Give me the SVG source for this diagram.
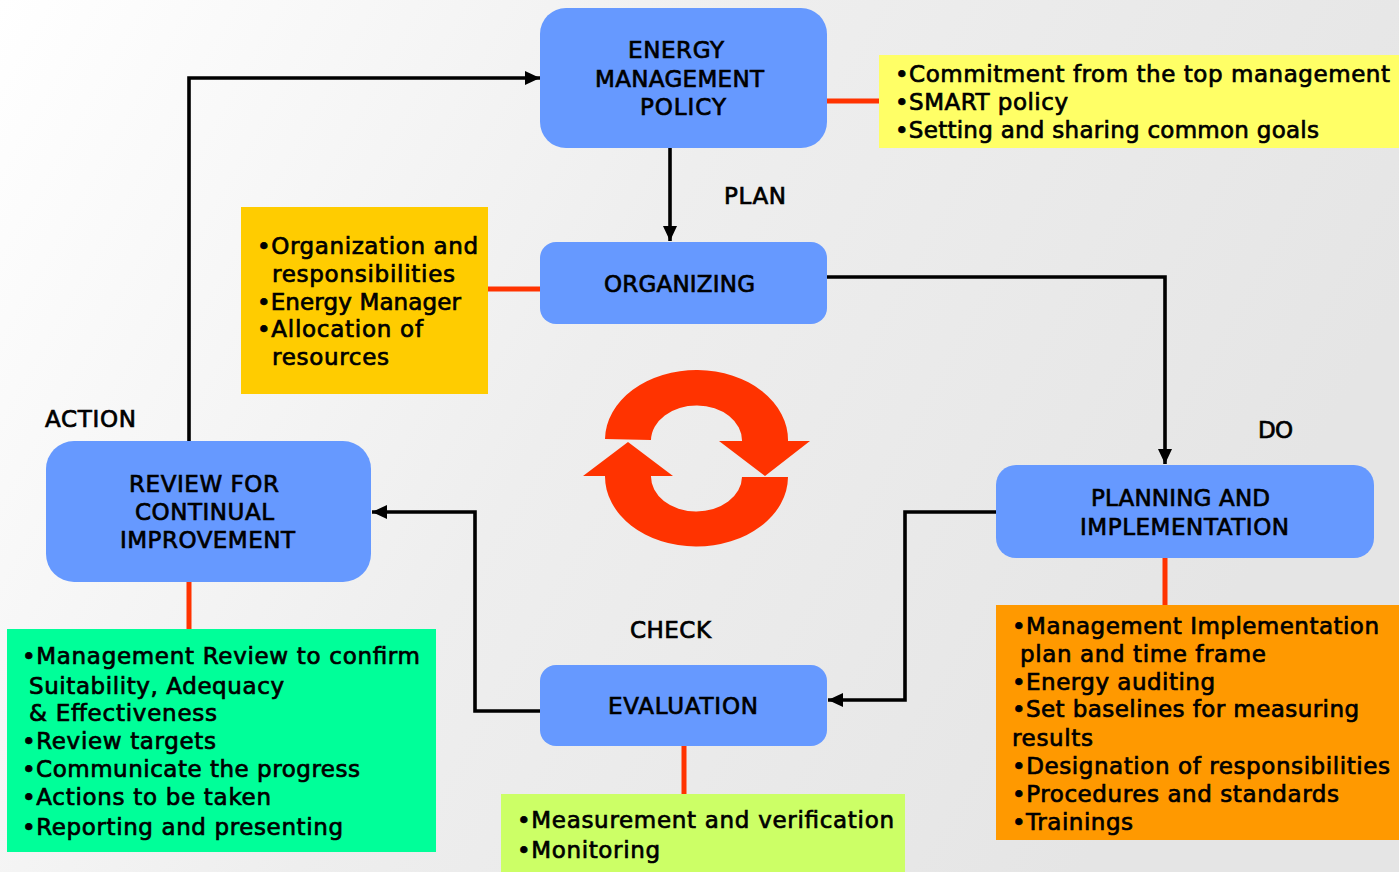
<svg xmlns="http://www.w3.org/2000/svg" width="1399" height="872" viewBox="0 0 1399 872">
<style>
text{font-family:"DejaVu Sans","Liberation Sans",sans-serif;font-size:23px;font-weight:400;fill:#000;stroke:#000;stroke-width:.7}
.n{fill:#6699ff}
.c{fill:none;stroke:#000;stroke-width:3.6}
.r{fill:none;stroke:#ff3300;stroke-width:5}
</style>
<defs>
<linearGradient id="bg" x1="0" y1="0" x2="1" y2="0.35"><stop offset="0" stop-color="#fff"/><stop offset=".5" stop-color="#eeeeee"/><stop offset="1" stop-color="#e5e5e5"/></linearGradient>
<marker id="a" markerUnits="userSpaceOnUse" markerWidth="16" markerHeight="14" refX="15" refY="7" orient="auto"><path d="M0 0L15 7L0 14z" fill="#000"/></marker>
</defs>
<rect width="1399" height="872" fill="url(#bg)"/>
<g id="connectors">
<path class="c" marker-end="url(#a)" d="M189 441V78H540"/>
<path class="c" marker-end="url(#a)" d="M670 148V241"/>
<path class="c" marker-end="url(#a)" d="M827 277H1165V464"/>
<path class="c" marker-end="url(#a)" d="M996 512H905V700H828"/>
<path class="c" marker-end="url(#a)" d="M540 711H475V512H372"/>
<path class="r" d="M827 101H879M488 289H540M1165 558V605M684 746V794M189 582V629"/>
</g>
<g id="policy"><rect class="n" x="540" y="8" width="287" height="140" rx="26"/><text x="628" y="58" textLength="96">ENERGY</text><text x="595" y="87" textLength="169">MANAGEMENT</text><text x="640" y="115" textLength="86">POLICY</text></g>
<g id="organizing"><rect class="n" x="540" y="242" width="287" height="82" rx="16"/><text x="604" y="292" textLength="151">ORGANIZING</text></g>
<g id="planning"><rect class="n" x="996" y="465" width="378" height="93" rx="20"/><text x="1091" y="506" textLength="179">PLANNING AND</text><text x="1080" y="535" textLength="209">IMPLEMENTATION</text></g>
<g id="evaluation"><rect class="n" x="540" y="665" width="287" height="81" rx="16"/><text x="608" y="714" textLength="150">EVALUATION</text></g>
<g id="review"><rect class="n" x="46" y="441" width="325" height="141" rx="28"/><text x="129" y="492" textLength="150">REVIEW FOR</text><text x="135" y="520" textLength="139">CONTINUAL</text><text x="120" y="548" textLength="175">IMPROVEMENT</text></g>
<g id="note-policy"><rect x="879" y="55" width="520" height="93" fill="#ffff66"/><text x="895" y="82" textLength="495">•Commitment from the top management</text><text x="895" y="110" textLength="173">•SMART policy</text><text x="895" y="138" textLength="424">•Setting and sharing common goals</text></g>
<g id="note-organizing"><rect x="241" y="207" width="247" height="187" fill="#ffcc00"/><text x="257" y="254" textLength="221">•Organization and</text><text x="272" y="282" textLength="183">responsibilities</text><text x="257" y="310" textLength="204">•Energy Manager</text><text x="257" y="337" textLength="166">•Allocation of</text><text x="272" y="365" textLength="117">resources</text></g>
<g id="note-planning"><rect x="996" y="605" width="403" height="235" fill="#ff9900"/><text x="1012" y="634" textLength="367">•Management Implementation</text><text x="1020" y="662" textLength="246">plan and time frame</text><text x="1012" y="690" textLength="203">•Energy auditing</text><text x="1012" y="717" textLength="347">•Set baselines for measuring</text><text x="1012" y="746" textLength="81">results</text><text x="1012" y="774" textLength="378">•Designation of responsibilities</text><text x="1012" y="802" textLength="327">•Procedures and standards</text><text x="1012" y="830" textLength="121">•Trainings</text></g>
<g id="note-evaluation"><rect x="501" y="794" width="404" height="78" fill="#ccff66"/><text x="517" y="828" textLength="377">•Measurement and verification</text><text x="517" y="858" textLength="143">•Monitoring</text></g>
<g id="note-review"><rect x="7" y="629" width="429" height="223" fill="#00ff99"/><text x="22" y="664" textLength="398">•Management Review to confirm</text><text x="29" y="694" textLength="255">Suitability, Adequacy</text><text x="29" y="721" textLength="188">&amp; Effectiveness</text><text x="22" y="749" textLength="194">•Review targets</text><text x="22" y="777" textLength="338">•Communicate the progress</text><text x="22" y="805" textLength="249">•Actions to be taken</text><text x="22" y="835" textLength="321">•Reporting and presenting</text></g>
<g id="labels"><text x="724" y="204" textLength="62">PLAN</text><text x="1258" y="438" textLength="35">DO</text><text x="630" y="638" textLength="81">CHECK</text><text x="45" y="427" textLength="91">ACTION</text></g>
<g id="cycle" fill="#ff3300"><path d="M605 439A91.5 70 0 0 1 788 441H810L765 476L719 441H742A45.5 35 0 0 0 651 440Z"/><path d="M583 476L628 442L673 476H651A45.5 35 0 0 0 742 477H788A91.5 70 0 0 1 605 476Z"/></g>
</svg>
